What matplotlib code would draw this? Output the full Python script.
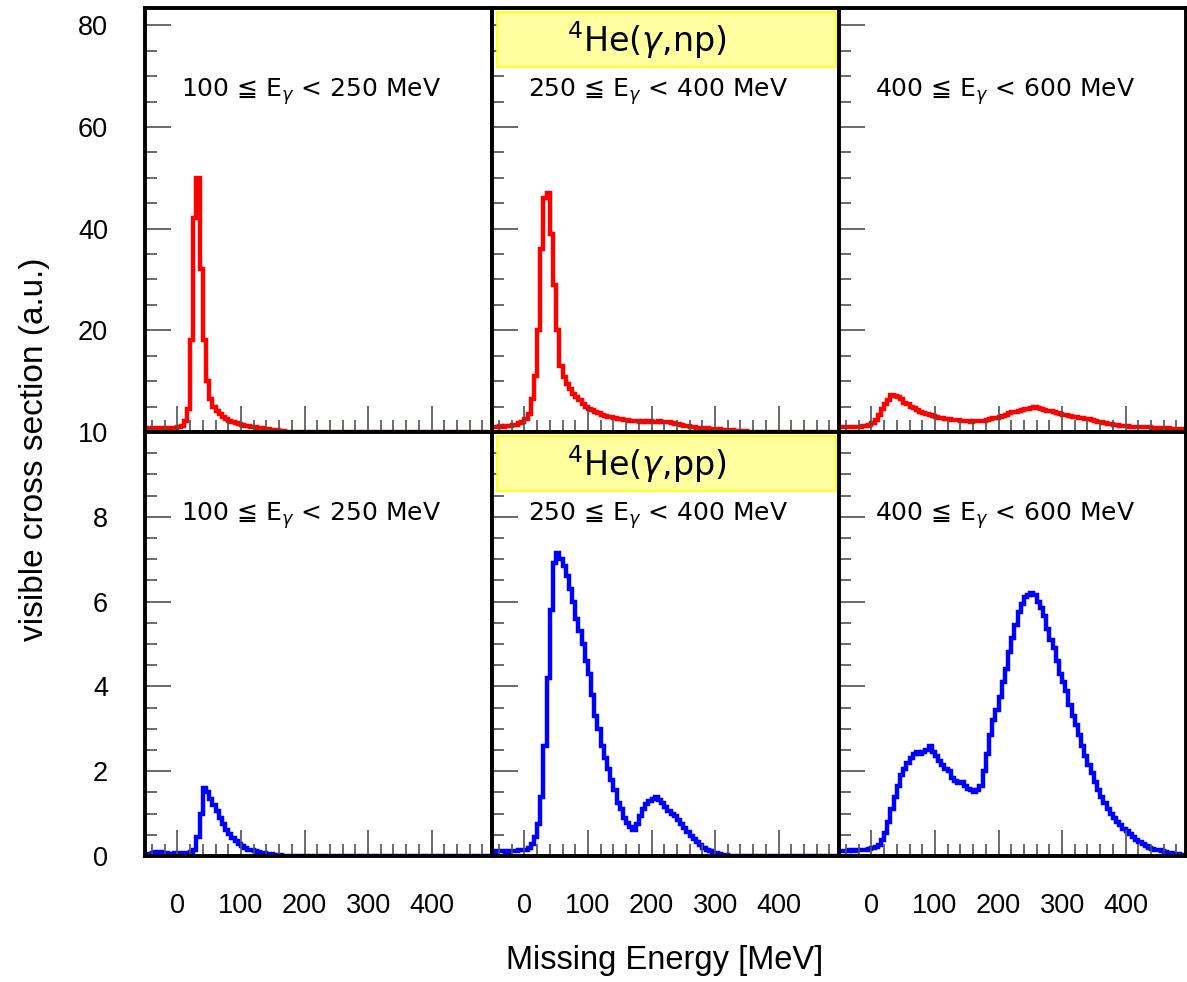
import numpy as np
import matplotlib
matplotlib.use("Agg")
import matplotlib.pyplot as plt
from matplotlib.patches import Rectangle
from matplotlib.ticker import MultipleLocator

# histogram binning (MeV)
e_min = -50
bin_width = 5

beam_ranges = ["100 \u2266 E$_\\gamma$ < 250 MeV",
               "250 \u2266 E$_\\gamma$ < 400 MeV",
               "400 \u2266 E$_\\gamma$ < 600 MeV"]
reactions = [r"$^{4}$He($\gamma$,np)", r"$^{4}$He($\gamma$,pp)"]

# 4He(g,np), one list per photon energy bin, 5 MeV bins from -50 MeV
np_100_250 = [0.7, 0.7, 0.7, 0.7, 0.7, 0.7, 0.8, 0.8, 0.8, 0.8,
              0.9, 1.2, 2.2, 4.5, 18, 42, 50, 32, 18, 10,
              6.5, 5.0, 4.2, 3.5, 3.0, 2.6, 2.2, 1.9, 1.7, 1.5,
              1.3, 1.2, 1.1, 1.0, 0.9, 0.8, 0.7, 0.6, 0.5, 0.4,
              0.3, 0.3, 0.2, 0.1, 0.05, 0, 0, 0, 0, 0,
              0, 0, 0, 0, 0, 0, 0, 0, 0, 0,
              0, 0, 0, 0, 0, 0, 0, 0, 0, 0,
              0, 0, 0, 0, 0, 0, 0, 0, 0, 0,
              0, 0, 0, 0, 0, 0, 0, 0, 0, 0,
              0, 0, 0, 0, 0, 0, 0, 0, 0, 0,
              0, 0, 0, 0, 0, 0, 0, 0, 0, 0]
np_250_400 = [1.0, 1.0, 1.1, 1.0, 1.1, 1.2, 1.3, 1.4, 1.7, 2.0,
              2.5, 3.5, 6.5, 11, 20, 36, 46, 47, 39, 29,
              20, 13, 10.8, 9.5, 8.5, 7.5, 6.8, 6.2, 5.6, 5.0,
              4.6, 4.3, 4.0, 3.7, 3.4, 3.2, 3.0, 2.9, 2.7, 2.6,
              2.5, 2.4, 2.3, 2.2, 2.2, 2.1, 2.0, 2.1, 2.0, 2.1,
              2.0, 2.0, 2.1, 1.9, 2.0, 1.9, 1.8, 1.6, 1.5, 1.3,
              1.2, 1.1, 1.0, 0.9, 0.85, 0.8, 0.7, 0.7, 0.6, 0.6,
              0.5, 0.5, 0.4, 0.4, 0.3, 0.3, 0.2, 0.2, 0.1, 0.1,
              0, 0, 0, 0, 0, 0, 0, 0, 0, 0,
              0, 0, 0, 0, 0, 0, 0, 0, 0, 0,
              0, 0, 0, 0, 0, 0, 0, 0, 0, 0]
np_400_600 = [0.9, 0.9, 0.9, 0.9, 1.0, 1.0, 1.0, 1.1, 1.1, 1.3,
              1.7, 2.3, 3.3, 4.5, 5.5, 6.3, 7.3, 7.0, 6.8, 6.5,
              5.8, 5.5, 5.0, 4.7, 4.4, 4.0, 3.8, 3.5, 3.3, 3.1,
              2.9, 2.8, 2.7, 2.6, 2.5, 2.4, 2.4, 2.3, 2.2, 2.2,
              2.1, 2.0, 2.1, 2.1, 2.2, 2.2, 2.4, 2.5, 2.7, 2.8,
              3.0, 3.2, 3.4, 3.7, 3.9, 4.0, 4.2, 4.3, 4.5, 4.6,
              4.8, 4.9, 4.7, 4.5, 4.4, 4.2, 4.1, 3.9, 3.7, 3.6,
              3.4, 3.3, 3.1, 3.0, 2.9, 2.8, 2.7, 2.6, 2.5, 2.3,
              2.2, 2.0, 1.9, 1.8, 1.6, 1.5, 1.4, 1.3, 1.2, 1.1,
              1.1, 1.0, 1.0, 1.0, 1.0, 0.9, 0.9, 0.9, 0.8, 0.8,
              0.8, 0.7, 0.7, 0.7, 0.6, 0.6, 0.6, 0.5, 0.5, 0.5]

# 4He(g,pp)
pp_100_250 = [0.05, 0.05, 0.08, 0.10, 0.10, 0.08, 0.06, 0.05, 0.05, 0.06,
              0.06, 0.07, 0.07, 0.08, 0.10, 0.15, 0.45, 1.0, 1.6, 1.5,
              1.35, 1.2, 1.05, 0.9, 0.75, 0.62, 0.52, 0.42, 0.35, 0.28,
              0.23, 0.19, 0.15, 0.13, 0.11, 0.09, 0.07, 0.06, 0.05, 0.04,
              0.03, 0.02, 0.02, 0.01, 0.01, 0, 0, 0, 0, 0,
              0, 0, 0, 0, 0, 0, 0, 0, 0, 0,
              0, 0, 0, 0, 0, 0, 0, 0, 0, 0,
              0, 0, 0, 0, 0, 0, 0, 0, 0, 0,
              0, 0, 0, 0, 0, 0, 0, 0, 0, 0,
              0, 0, 0, 0, 0, 0, 0, 0, 0, 0,
              0, 0, 0, 0, 0, 0, 0, 0, 0, 0]
pp_250_400 = [0.10, 0.12, 0.11, 0.12, 0.10, 0.12, 0.11, 0.12, 0.13, 0.14,
              0.14, 0.18, 0.28, 0.45, 0.75, 1.4, 2.6, 4.2, 5.8, 6.9,
              7.15, 7.0, 6.85, 6.6, 6.3, 6.0, 5.6, 5.3, 5.0, 4.6,
              4.3, 3.8, 3.3, 3.0, 2.6, 2.3, 2.05, 1.8, 1.55, 1.25,
              1.1, 0.9, 0.78, 0.68, 0.62, 0.75, 0.95, 1.12, 1.22, 1.3,
              1.35, 1.38, 1.32, 1.25, 1.15, 1.05, 1.0, 0.95, 0.85, 0.75,
              0.65, 0.56, 0.48, 0.4, 0.33, 0.26, 0.2, 0.15, 0.11, 0.08,
              0.06, 0.04, 0.03, 0.02, 0, 0, 0, 0, 0, 0,
              0, 0, 0, 0, 0, 0, 0, 0, 0, 0,
              0, 0, 0, 0, 0, 0, 0, 0, 0, 0,
              0, 0, 0, 0, 0, 0, 0, 0, 0, 0]
pp_400_600 = [0.11, 0.12, 0.11, 0.13, 0.12, 0.13, 0.14, 0.13, 0.15, 0.16,
              0.18, 0.21, 0.26, 0.38, 0.55, 0.8, 1.1, 1.4, 1.65, 1.9,
              2.05, 2.2, 2.3, 2.4, 2.45, 2.4, 2.45, 2.5, 2.6, 2.45,
              2.35, 2.25, 2.15, 2.05, 2.0, 1.85, 1.78, 1.72, 1.75, 1.65,
              1.58, 1.55, 1.5, 1.55, 1.65, 2.0, 2.4, 2.85, 3.2, 3.45,
              3.75, 4.1, 4.4, 4.8, 5.15, 5.45, 5.75, 5.95, 6.1, 6.15,
              6.2, 6.15, 6.0, 5.85, 5.65, 5.35, 5.1, 4.9, 4.6, 4.3,
              4.1, 3.9, 3.55, 3.3, 3.1, 2.85, 2.6, 2.35, 2.15, 1.95,
              1.75, 1.55, 1.4, 1.25, 1.12, 1.0, 0.9, 0.8, 0.72, 0.64,
              0.58, 0.52, 0.45, 0.38, 0.32, 0.28, 0.24, 0.2, 0.17, 0.15,
              0.13, 0.11, 0.09, 0.08, 0.06, 0.05, 0.04, 0.03, 0.02, 0.02]

spectra = [[np_100_250, np_250_400, np_400_600],
           [pp_100_250, pp_250_400, pp_400_600]]
line_colors = ["#ff0000", "#0000ff"]

W, H = 1187, 982
plt.rcParams['font.family'] = ['Liberation Sans', 'DejaVu Sans']
fig = plt.figure(figsize=(W / 100, H / 100), dpi=100)

# panel frame in pixels
left_px, right_px, top_px, bot_px = 145, 1186, 8, 856
pw = (right_px - left_px) / 3
ph = (bot_px - top_px) / 2

tick_col = "#505050"

for r in range(2):
    for c in range(3):
        ax = fig.add_axes([(left_px + c * pw) / W,
                           1 - (top_px + (r + 1) * ph) / H,
                           pw / W, ph / H])
        vals = np.array(spectra[r][c])
        edges = e_min + bin_width * np.arange(len(vals) + 1)
        ax.stairs(vals, edges, baseline=None, color=line_colors[r],
                  linewidth=3.2)

        ax.set_xlim(-51, 495)
        ax.set_xticks([0, 100, 200, 300, 400])
        ax.xaxis.set_minor_locator(MultipleLocator(20))
        if r == 0:
            ax.set_ylim(0, 83.4)
            ax.set_yticks([0, 20, 40, 60, 80])
            ax.set_yticklabels(["", "20", "40", "60", "80"])
            ax.yaxis.set_minor_locator(MultipleLocator(5))
        else:
            ax.set_ylim(0, 10)
            ax.set_yticks([0, 2, 4, 6, 8, 10])
            ax.yaxis.set_minor_locator(MultipleLocator(0.5))

        ax.tick_params(which='both', direction='in', top=False, right=False,
                       color=tick_col, width=1.2, labelsize=19.5, pad=26.6,
                       labelbottom=(r == 1), labelleft=(c == 0))
        ax.tick_params(which='major', length=18.7)
        ax.tick_params(which='minor', length=8.6)
        for sp in ax.spines.values():
            sp.set_linewidth(2.8)
            sp.set_color("black")

        # DejaVu Sans carries the "less-than over equal" sign
        ax.text(0.105, 0.79, beam_ranges[c], transform=ax.transAxes,
                fontsize=18, ha='left', va='baseline', family='DejaVu Sans')

        if c == 1:
            ax.add_patch(Rectangle((0.014, 0.862), 0.976, 0.128,
                                   transform=ax.transAxes,
                                   facecolor="#ffffa0", edgecolor="#ffff00",
                                   linewidth=1.2, zorder=3))
            ax.text(0.447, 0.896, reactions[r], transform=ax.transAxes,
                    fontsize=24, ha='center', va='baseline',
                    family='DejaVu Sans', zorder=4)

fig.text(665 / W, 1 - 961 / H, "Missing Energy [MeV]", fontsize=23.5,
         ha='center', va='center')
fig.text(35 / W, 1 - 449 / H, "visible cross section (a.u.)", fontsize=24,
         rotation=90, ha='center', va='center')

fig.savefig("out.png", dpi=100)
